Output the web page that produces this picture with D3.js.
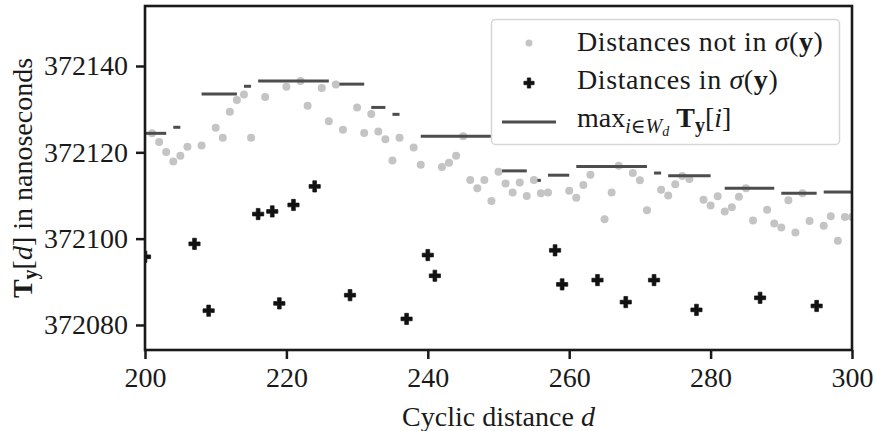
<!DOCTYPE html>
<html>
<head>
<meta charset="utf-8">
<script src="https://cdn.jsdelivr.net/npm/d3@7"></script>
<style>
	body { margin: 0; background: white; }
	text { font-family: "Liberation Serif", "DejaVu Serif", serif; fill: #1a1a1a; }
</style>
</head>
<body>
<script>
// distances that are not in sigma(y)
var grayD = [201, 202, 203, 204, 205, 206, 208, 210, 211, 212, 213, 214, 215, 217, 220, 222, 223, 225, 226, 227,
	228, 230, 231, 232, 233, 234, 235, 236, 238, 239, 242, 243, 244, 245, 246, 247, 248, 249, 250, 251,
	252, 253, 254, 255, 256, 257, 260, 261, 262, 263, 265, 266, 267, 269, 270, 271, 273, 274, 275, 276,
	277, 279, 280, 281, 282, 283, 284, 285, 286, 288, 289, 290, 291, 292, 293, 294, 296, 297, 298, 299, 300]
var grayT = [372124.4, 372122.4, 372120.1, 372117.9, 372119.2, 372121.3, 372121.6, 372125.7, 372123.4, 372129.4,
	372132.1, 372133.4, 372123.4, 372132.8, 372135.2, 372136.5, 372130.8, 372134.9, 372127.2, 372135.7,
	372125.2, 372130.4, 372124.5, 372128.9, 372124.8, 372123.0, 372118.1, 372123.4, 372121.1, 372117.1,
	372116.6, 372117.6, 372119.2, 372123.7, 372113.6, 372111.7, 372113.6, 372108.7, 372115.5, 372112.8,
	372110.7, 372113.0, 372109.9, 372113.6, 372110.5, 372110.7, 372111.1, 372109.5, 372112.4, 372114.8,
	372104.5, 372110.7, 372116.9, 372115.2, 372113.5, 372106.6, 372111.3, 372110.0, 372112.6, 372114.5,
	372113.8, 372109.0, 372107.7, 372109.8, 372106.3, 372107.3, 372109.7, 372111.7, 372104.2, 372106.7,
	372103.5, 372102.6, 372108.9, 372101.4, 372110.5, 372104.1, 372103.0, 372105.2, 372099.5, 372105.0, 372105.0]

// distances in sigma(y)
var sigmaD = [200, 207, 209, 216, 218, 219, 221, 224, 229, 237, 240, 241, 258, 259, 264, 268, 272, 278, 287, 295]
var sigmaT = [372095.8, 372098.8, 372083.3, 372105.7, 372106.3, 372085.0, 372107.8, 372112.1, 372086.9, 372081.4,
	372096.2, 372091.4, 372097.3, 372089.4, 372090.4, 372085.3, 372090.4, 372083.5, 372086.3, 372084.4]

// window maxima: segment start, end, value
var maxStart = [200, 204, 208, 214, 216, 227.5, 232, 235, 239, 250.5, 255.5, 257, 261, 272, 274, 282, 290, 296]
var maxEnd = [203, 205, 213, 215, 226, 231, 234, 236, 249, 254, 256, 260, 271, 273, 280, 289, 295, 300.2]
var maxT = [372124.4, 372125.8, 372133.5, 372135.3, 372136.5, 372135.8, 372130.4, 372128.8, 372123.7, 372115.7,
	372113.5, 372114.7, 372116.7, 372115.2, 372114.6, 372111.7, 372110.5, 372110.8]

var xTicks = [200, 220, 240, 260, 280, 300]
var yTicks = [372080, 372100, 372120, 372140]

var w = 875
var h = 431
var padLeft = 145
var padRight = 852
var padTop = 6
var padBottom = 350
var fontSize = 28

function main() {
	var svg = d3.select("body")
		.append("svg")
		.attr("width", w)
		.attr("height", h)

	var xScale = d3.scaleLinear()
		.domain([200, 300])
		.range([padLeft, padRight])

	var yScale = d3.scaleLinear()
		.domain([372074.2, 372153.9])
		.range([padBottom, padTop])

	svg.append("clipPath")
		.attr("id", "plotclip")
		.append("rect")
		.attr("x", padLeft)
		.attr("y", padTop)
		.attr("width", padRight - padLeft)
		.attr("height", padBottom - padTop)

	var plot = svg.append("g").attr("clip-path", "url(#plotclip)")

	// gray points
	plot.selectAll(".gray")
		.data(grayD)
		.enter()
		.append("circle")
		.attr("class", "gray")
		.attr("cx", (d) => xScale(d))
		.attr("cy", (d, i) => yScale(grayT[i]))
		.attr("r", 4)
		.attr("fill", "#c4c4c4")

	// crosses
	var cross = d3.symbol().type(d3.symbolCross).size(70)
	plot.selectAll(".sigma")
		.data(sigmaD)
		.enter()
		.append("path")
		.attr("class", "sigma")
		.attr("d", cross)
		.attr("transform", (d, i) => "translate(" + xScale(d) + "," + yScale(sigmaT[i]) + ")")
		.attr("fill", "#111")
		.attr("stroke", "#111")
		.attr("stroke-width", 0.7)

	// window maxima
	plot.selectAll(".maxline")
		.data(maxStart)
		.enter()
		.append("line")
		.attr("class", "maxline")
		.attr("x1", (d) => xScale(d))
		.attr("x2", (d, i) => xScale(maxEnd[i]))
		.attr("y1", (d, i) => yScale(maxT[i]))
		.attr("y2", (d, i) => yScale(maxT[i]))
		.attr("stroke", "#4d4d4d")
		.attr("stroke-width", 3)

	// Axes
	var xAxis = d3.axisBottom(xScale).tickValues(xTicks).tickSize(9).tickPadding(8).tickFormat(d3.format("d"))
	var yAxis = d3.axisLeft(yScale).tickValues(yTicks).tickSize(9).tickPadding(8).tickFormat(d3.format("d"))

	var gx = svg.append("g")
		.attr("transform", "translate(0," + padBottom + ")")
		.call(xAxis)
	var gy = svg.append("g")
		.attr("transform", "translate(" + padLeft + ",0)")
		.call(yAxis)

	;[gx, gy].forEach((g) => {
		g.select(".domain").remove()
		g.selectAll(".tick line").attr("stroke", "#1a1a1a").attr("stroke-width", 2.5)
		g.selectAll(".tick text")
			.attr("fill", "#1a1a1a")
			.style("font-family", "Liberation Serif, serif")
			.style("font-size", fontSize + "px")
	})
	gx.selectAll(".tick text").attr("dy", "0.72em")

	// frame
	svg.append("rect")
		.attr("x", padLeft)
		.attr("y", padTop)
		.attr("width", padRight - padLeft)
		.attr("height", padBottom - padTop)
		.attr("fill", "none")
		.attr("stroke", "#1a1a1a")
		.attr("stroke-width", 2.6)

	// axis labels
	var xl = svg.append("text")
		.attr("x", (padLeft + padRight) / 2)
		.attr("y", 426)
		.style("text-anchor", "middle")
		.style("font-size", fontSize + "px")
	xl.append("tspan").text("Cyclic distance ")
	xl.append("tspan").style("font-style", "italic").text("d")

	var yl = svg.append("text")
		.attr("transform", "translate(32," + (padTop + padBottom) / 2 + ") rotate(-90)")
		.style("text-anchor", "middle")
		.style("font-size", fontSize + "px")
	yl.append("tspan").style("font-weight", "bold").text("T")
	yl.append("tspan").style("font-weight", "bold").style("font-size", "20px").attr("dy", 5).text("y")
	yl.append("tspan").attr("dy", -5).text("[")
	yl.append("tspan").style("font-style", "italic").text("d")
	yl.append("tspan").text("] in nanoseconds")

	drawLegend(svg)
}

function drawLegend(svg) {
	var legend = svg.append("g")

	legend.append("rect")
		.attr("x", 491.5)
		.attr("y", 19.5)
		.attr("width", 348)
		.attr("height", 125)
		.attr("rx", 4)
		.attr("fill", "white")
		.attr("fill-opacity", 0.8)
		.attr("stroke", "#d6d6d6")
		.attr("stroke-width", 1.5)

	legend.append("circle")
		.attr("cx", 529)
		.attr("cy", 43)
		.attr("r", 3.5)
		.attr("fill", "#c4c4c4")

	legend.append("path")
		.attr("d", d3.symbol().type(d3.symbolCross).size(58))
		.attr("transform", "translate(529,83)")
		.attr("fill", "#111")
		.attr("stroke", "#111")
		.attr("stroke-width", 0.7)

	legend.append("line")
		.attr("x1", 502)
		.attr("x2", 556)
		.attr("y1", 122)
		.attr("y2", 122)
		.attr("stroke", "#4d4d4d")
		.attr("stroke-width", 3)

	var t1 = legend.append("text").attr("x", 577).attr("y", 51).style("font-size", fontSize + "px")
		.style("letter-spacing", "0.6px")
	t1.append("tspan").text("Distances not in ")
	t1.append("tspan").style("font-style", "italic").text("σ")
	t1.append("tspan").text("(")
	t1.append("tspan").style("font-weight", "bold").text("y")
	t1.append("tspan").text(")")

	var t2 = legend.append("text").attr("x", 577).attr("y", 89).style("font-size", fontSize + "px")
		.style("letter-spacing", "0.6px")
	t2.append("tspan").text("Distances in ")
	t2.append("tspan").style("font-style", "italic").text("σ")
	t2.append("tspan").text("(")
	t2.append("tspan").style("font-weight", "bold").text("y")
	t2.append("tspan").text(")")

	var t3 = legend.append("text").attr("x", 577).attr("y", 127).style("font-size", fontSize + "px")
	t3.append("tspan").text("max")
	t3.append("tspan").style("font-style", "italic").style("font-size", "20px").attr("dy", 6).text("i")
	t3.append("tspan").style("font-size", "20px").text("∈")
	t3.append("tspan").style("font-style", "italic").style("font-size", "20px").text("W")
	t3.append("tspan").style("font-style", "italic").style("font-size", "14px").attr("dy", 3).text("d")
	t3.append("tspan").attr("dy", -9).text(" ")
	t3.append("tspan").style("font-weight", "bold").text("T")
	t3.append("tspan").style("font-weight", "bold").style("font-size", "20px").attr("dy", 5).text("y")
	t3.append("tspan").attr("dy", -5).text("[")
	t3.append("tspan").style("font-style", "italic").text("i")
	t3.append("tspan").text("]")
}

main()
</script>
</body>
</html>
